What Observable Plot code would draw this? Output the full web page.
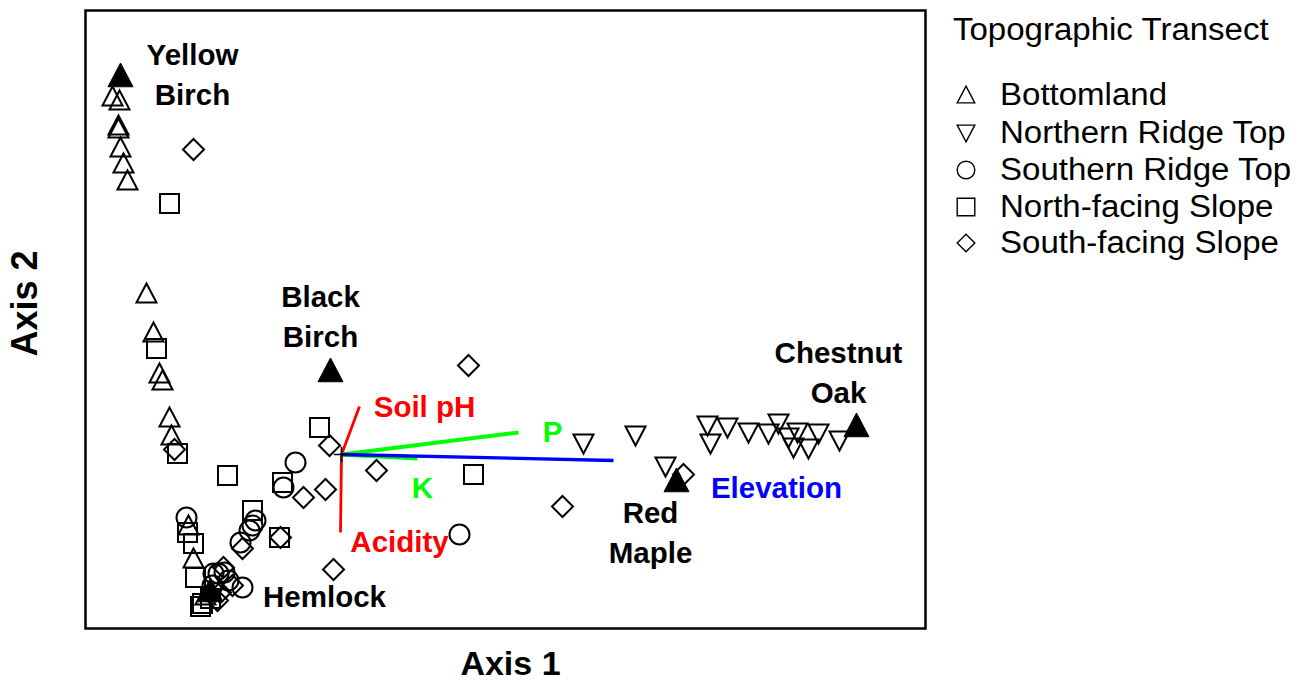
<!DOCTYPE html>
<html>
<head>
<meta charset="utf-8">
<script src="https://cdn.jsdelivr.net/npm/d3@7"></script>
<script src="https://cdn.jsdelivr.net/npm/@observablehq/plot@0.6"></script>
<style>
  body { margin: 0; background: #fff; }
  #wrap { position: relative; width: 1306px; height: 683px; font-family: "Liberation Sans", Arial, sans-serif; background: #fff; }
  #chart { position: absolute; left: 0; top: 0; }
  .lg { position: absolute; font-size: 31px; line-height: 36px; color: #000; white-space: nowrap; transform: scaleX(1.065); transform-origin: left center; }
  .lgsym { position: absolute; }
</style>
</head>
<body>
<div id="wrap"><div id="chart"></div><div id="legend"></div></div>
<script>
// ---------------- DATA (ordination scores, arbitrary units) ----------------
const legendTitle = "Topographic Transect";
const groups = ["Bottomland", "Northern Ridge Top", "Southern Ridge Top", "North-facing Slope", "South-facing Slope"];

const bottomlandX = [27, 34, 33, 33, 35, 38, 42, 61, 68, 74, 77, 84, 86, 103, 108, 120];
const bottomlandY = [532, 528, 503, 500, 481, 465, 448, 335, 296, 255, 248, 211, 193, 103, 70, 33];

const northRidgeX = [498, 550, 580, 622, 625, 642, 663, 683, 693, 712, 708, 723, 733, 754, 703];
const northRidgeY = [185, 193, 162, 203, 185, 201, 196, 195, 205, 196, 181, 180, 195, 188, 191];

const southRidgeX = [210, 198, 170, 167, 164, 155, 101, 157, 374, 128, 133, 139, 127, 143];
const southRidgeY = [166, 141, 108, 103, 98, 86, 111, 41, 94, 55, 55, 56, 43, 48];

const northSlopeX = [84, 71, 92, 234, 142, 197, 167, 194, 388, 102, 108, 110, 117, 115, 125];
const northSlopeY = [425, 280, 175, 201, 153, 146, 118, 91, 154, 96, 85, 51, 25, 22, 30];

const southSlopeX = [108, 89, 244, 291, 383, 218, 240, 157, 195, 248, 477, 598, 138, 132, 135, 147];
const southSlopeY = [479, 179, 183, 158, 263, 131, 139, 80, 91, 59, 122, 154, 61, 28, 36, 43];

// species scores (filled triangles) and their label anchors
const speciesNames = ["Yellow\nBirch", "Black\nBirch", "Chestnut\nOak", "Red\nMaple", "Hemlock"];
const speciesX = [35, 245, 771, 591, 125];
const speciesY = [553, 258, 203, 148, 38];
const speciesLabelX = [107, 235, 753, 565, 239];
const speciesLabelY = [553, 311, 255, 95, 31];

// environmental vectors (biplot)
const originX = 256, originY = 174;
const vectorNames = ["Soil pH", "Acidity", "P", "K", "Elevation"];
const vectorX = [274, 255, 433, 332, 528];
const vectorY = [222, 96, 196, 170, 168];
const vectorLabelX = [339, 314, 467, 337, 691];
const vectorLabelY = [221, 86, 196, 140, 140];

// ---------------- STYLE ----------------
const vectorColor = {"Soil pH": "#ff0000", "Acidity": "#ff0000", "P": "#00ff00", "K": "#00ff00", "Elevation": "#0000ff"};
const vectorWidth = {"Soil pH": 2.8, "Acidity": 2.8, "P": 4, "K": 4, "Elevation": 3.3};
const FONT = "Liberation Sans, Arial, Helvetica, sans-serif";

const rOf = size => Math.sqrt(size / Math.PI);
const triUp = {draw(c, s) { const r = rOf(s); c.moveTo(0, -r); c.lineTo(r, 0.9 * r); c.lineTo(-r, 0.9 * r); c.closePath(); }};
const triDown = {draw(c, s) { const r = rOf(s); c.moveTo(0, r); c.lineTo(r, -0.9 * r); c.lineTo(-r, -0.9 * r); c.closePath(); }};
const circ = {draw(c, s) { const r = rOf(s); c.moveTo(r, 0); c.arc(0, 0, r, 0, 2 * Math.PI); c.closePath(); }};
const sq = {draw(c, s) { const r = rOf(s); c.rect(-r, -r, 2 * r, 2 * r); }};
const dia = {draw(c, s) { const r = rOf(s); c.moveTo(0, -r); c.lineTo(r, 0); c.lineTo(0, r); c.lineTo(-r, 0); c.closePath(); }};
const groupSymbols = [triUp, triDown, circ, sq, dia];
const groupRadius = [10, 10, 10, 9.5, 10.5];

const series = [
  [bottomlandX, bottomlandY],
  [northRidgeX, northRidgeY],
  [southRidgeX, southRidgeY],
  [northSlopeX, northSlopeY],
  [southSlopeX, southSlopeY]
];

const pointMarks = series.map(([xs, ys], g) =>
  Plot.dot(d3.range(xs.length), {
    x: i => xs[i], y: i => ys[i],
    symbol: groupSymbols[g], r: groupRadius[g],
    stroke: "black", strokeWidth: 2, fill: "none"
  })
);

const chart = Plot.plot({
  width: 940, height: 683,
  marginLeft: 85, marginRight: 15, marginTop: 10, marginBottom: 55,
  x: {domain: [0, 840], axis: null},
  y: {domain: [0, 618], axis: null},
  color: {type: "identity"},
  style: {fontFamily: FONT, background: "white", overflow: "visible"},
  marks: [
    ...pointMarks,
    // species (filled triangles)
    Plot.dot(speciesNames, {x: (d, i) => speciesX[i], y: (d, i) => speciesY[i], symbol: triUp, r: 12.5, fill: "black", stroke: "black", strokeWidth: 1}),
    // environmental vectors
    Plot.link(vectorNames, {
      x1: () => originX, y1: () => originY,
      x2: (d, i) => vectorX[i], y2: (d, i) => vectorY[i],
      stroke: d => vectorColor[d], strokeWidth: d => vectorWidth[d]
    }),
    Plot.dot([0], {x: () => originX, y: () => originY, symbol: "plus", r: 5, stroke: "black", strokeWidth: 1.6}),
    Plot.text(vectorNames, {
      x: (d, i) => vectorLabelX[i], y: (d, i) => vectorLabelY[i], text: d => d,
      fill: d => vectorColor[d], fontSize: 29.5, fontWeight: "bold", dy: 0.5
    }),
    Plot.text(speciesNames, {
      x: (d, i) => speciesLabelX[i], y: (d, i) => speciesLabelY[i], text: d => d,
      fill: "black", fontSize: 29.5, fontWeight: "bold", lineHeight: 1.36, dy: -3
    }),
    Plot.frame({stroke: "black", strokeWidth: 2.5}),
    Plot.text(["Axis 1"], {frameAnchor: "bottom", textAnchor: "middle", lineAnchor: "middle", dx: 5, dy: 36, text: d => d, fontSize: 34, fontWeight: "bold", fill: "black"}),
    Plot.text(["Axis 2"], {frameAnchor: "left", textAnchor: "middle", lineAnchor: "middle", dx: -60, dy: -16, rotate: -90, text: d => d, fontSize: 36, fontWeight: "bold", fill: "black"})
  ]
});
document.getElementById("chart").appendChild(chart);

// ---------------- LEGEND ----------------
const legend = document.getElementById("legend");
const title = document.createElement("div");
title.className = "lg";
title.style.left = "953px";
title.style.top = "12px";
title.textContent = legendTitle;
legend.appendChild(title);

const itemTops = [77, 115, 152, 189, 225];
groups.forEach((g, i) => {
  const t = document.createElement("div");
  t.className = "lg";
  t.style.left = "1000px";
  t.style.top = itemTops[i] + "px";
  t.textContent = g;
  legend.appendChild(t);
  const p = d3.path();
  groupSymbols[i].draw(p, Math.PI * 8.8 * 8.8);
  const s = d3.create("svg").attr("class", "lgsym").attr("width", 24).attr("height", 24)
    .style("left", (966 - 12) + "px").style("top", (itemTops[i] + 18 - 12) + "px");
  s.append("path").attr("transform", "translate(12,12)").attr("d", p.toString())
    .attr("fill", "none").attr("stroke", "black").attr("stroke-width", 1.4);
  legend.appendChild(s.node());
});
</script>
</body>
</html>
